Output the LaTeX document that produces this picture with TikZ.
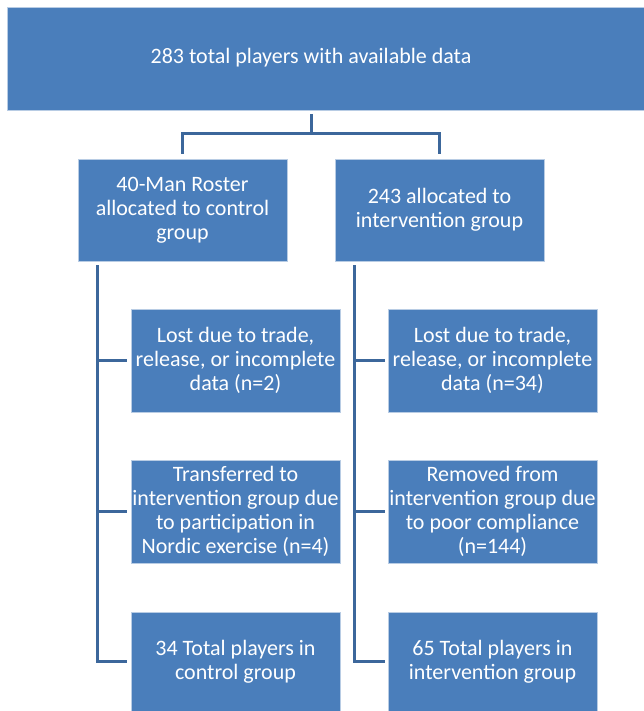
\documentclass[tikz,border=0pt]{standalone}
\usepackage{fontspec}
\setmainfont{Carlito}
\definecolor{boxfill}{HTML}{4A7EBB}
\definecolor{boxedge}{HTML}{B8CCE4}
\definecolor{linecol}{HTML}{3C679B}
\begin{document}
\begin{tikzpicture}[x=1pt,y=-1pt,
  box/.style={draw=boxedge, line width=0.8pt, fill=boxfill, text=white, inner sep=0pt,
    align=center, minimum width=209pt, minimum height=103pt,
    font=\fontsize{22}{24}\selectfont},
  conn/.style={draw=linecol, line width=3pt, line join=miter, line cap=butt}]
\useasboundingbox (0,0) rectangle (644,711);
% top
\node[box, minimum width=637pt] (top) at (325.5,58.5) {};
\node[text=white, font=\fontsize{22}{24}\selectfont, inner sep=0pt] (toptext) at (311,58) {283 total players with available data};
% second level
\node[box, minimum height=102pt] (ctl) at (182.5,210) {40-Man Roster\\allocated to control\\group};
\node[box, minimum height=102pt] (int) at (439.5,210) {243 allocated to\\intervention group};
% left column
\node[box] (c1) at (235.5,360.5) {Lost due to trade,\\release, or incomplete\\data (n=2)};
\node[box] (c2) at (235.5,511.5) {Transferred to\\intervention group due\\to participation in\\Nordic exercise (n=4)};
\node[box, minimum height=99pt] (c3) at (235.5,661.5) {34 Total players in\\control group};
% right column
\node[box] (i1) at (492.5,360.5) {Lost due to trade,\\release, or incomplete\\data (n=34)};
\node[box] (i2) at (492.5,511.5) {Removed from\\intervention group due\\to poor compliance\\(n=144)};
\node[box, minimum height=99pt] (i3) at (492.5,661.5) {65 Total players in\\intervention group};
% fork
\coordinate (stemtop) at (311,114);
\coordinate (fork) at (311,134);
\draw[conn] (stemtop) -- (fork);
\draw[conn] ([yshift=5pt]ctl.north) |- (fork) -| ([yshift=5pt]int.north);
% left spine
\coordinate (lspine) at (97,265);
\draw[conn] (lspine) |- ([xshift=-4pt]c3.west);
\draw[conn] (lspine |- c1.west) -- ([xshift=-4pt]c1.west);
\draw[conn] (lspine |- c2.west) -- ([xshift=-4pt]c2.west);
% right spine
\coordinate (rspine) at (354,265);
\draw[conn] (rspine) |- ([xshift=-3pt]i3.west);
\draw[conn] (rspine |- i1.west) -- ([xshift=-3pt]i1.west);
\draw[conn] (rspine |- i2.west) -- ([xshift=-3pt]i2.west);
\end{tikzpicture}
\end{document}
